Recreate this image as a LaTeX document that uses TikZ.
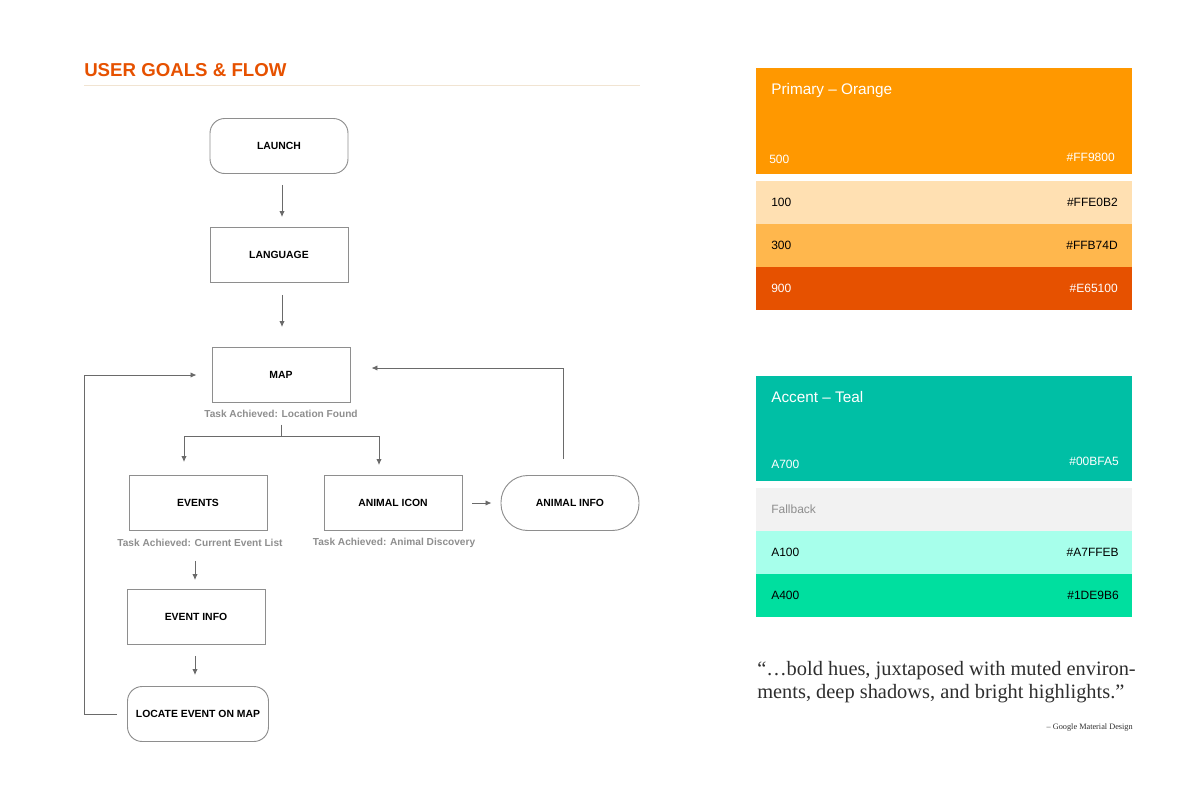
\documentclass[tikz,border=0pt]{standalone}
\usepackage{fontspec}
\setmainfont{Liberation Sans}
\newfontfamily\quotefont{Liberation Serif}
\usetikzlibrary{arrows.meta,positioning,calc}

\definecolor{titleorange}{HTML}{E65100}
\definecolor{rulecolor}{HTML}{F1E4D2}
\definecolor{flowgray}{HTML}{6A6A6A}
\definecolor{boxgray}{HTML}{8E8E8E}
\definecolor{notegray}{HTML}{8E8E8E}
\definecolor{quotegray}{HTML}{2E2E2E}
\definecolor{o500}{HTML}{FF9800}
\definecolor{o100}{HTML}{FFE0B2}
\definecolor{o300}{HTML}{FFB74D}
\definecolor{o900}{HTML}{E65100}
\definecolor{tA700}{HTML}{00BFA5}
\definecolor{tA100}{HTML}{A7FFEB}
\definecolor{tA400}{HTML}{00DF9F}
\definecolor{fallback}{HTML}{F2F2F2}

\tikzset{
    flowbox/.style={draw=boxgray, line width=0.7pt, minimum width=103.5pt,
        minimum height=41.25pt, inner sep=0pt,
        font=\fontsize{7.8}{9}\selectfont\bfseries},
    roundbox/.style={flowbox, rounded corners=11pt},
    pillbox/.style={flowbox, rounded corners=20pt},
    goal/.style={text=notegray, inner sep=0pt, font=\fontsize{7.6}{9}\selectfont\bfseries},
    flow/.style={draw=flowgray, line width=0.65pt},
    flow arrow/.style={flow, -{Latex[length=4.5pt,width=4pt]}},
    swatch label/.style={anchor=west, inner sep=0pt, font=\fontsize{9}{11}\selectfont},
    swatch hex/.style={anchor=east, inner sep=0pt, font=\fontsize{9}{11}\selectfont},
    swatch title/.style={anchor=west, inner sep=0pt, text=white, font=\fontsize{11.5}{14}\selectfont},
}

\begin{document}
\begin{tikzpicture}[x=0.75pt, y=-0.75pt]
    \useasboundingbox (0,0) rectangle (1200,800);

    % heading
    \node[anchor=base west, inner sep=0pt, text=titleorange,
        font=\fontsize{14}{16}\selectfont\bfseries] (heading) at (84,76) {USER GOALS \& FLOW};
    \draw[rulecolor, line width=0.75pt] (84,85) -- (640,85);

    % flow screens
    \node[roundbox] (launch) at (279,146) {LAUNCH};
    \node[flowbox] (language) at (279,255) {LANGUAGE};
    \node[flowbox] (map) at (281,375) {MAP};
    \node[goal] (maplabel) at (281,414) {Task Achieved: Location Found};
    \node[flowbox] (events) at (198,503) {EVENTS};
    \node[goal] (eventslabel) at (200,543) {Task Achieved: Current Event List};
    \node[flowbox] (animalicon) at (393,503) {ANIMAL ICON};
    \node[goal] (animallabel) at (394,543) {Task Achieved: Animal Discovery};
    \node[pillbox] (animalinfo) at (570,503) {ANIMAL INFO};
    \node[flowbox] (eventinfo) at (196,617) {EVENT INFO};
    \node[roundbox, minimum width=105.75pt] (locate) at (198,714) {LOCATE EVENT ON MAP};

    \coordinate (split) at (281,436);
    \coordinate (backleft) at (84,714);
    \coordinate (backright) at (563,368);

    % connectors
    \draw[flow arrow, shorten <=8.25pt, shorten >=7.5pt] ([xshift=2.25pt]launch.south) -- ([xshift=2.25pt]language.north);
    \draw[flow arrow, shorten <=9pt, shorten >=15pt] ([xshift=2.25pt]language.south) -- ([xshift=2.25pt]language.south |- map.north);
    \draw[flow, shorten <=5pt] (maplabel.south) -- (split);
    \draw[flow arrow] (split) -| ($(events.north)+(-14,-13)$);
    \draw[flow arrow] (split) -| ($(animalicon.north)+(-14,-10)$);
    \draw[flow arrow, shorten <=7.5pt, shorten >=6.75pt] (animalicon.east) -- (animalinfo.west);
    \draw[flow arrow, shorten <=12pt, shorten >=15.75pt] (backright |- animalinfo.north) -- (backright) -- (backright -| map.east);
    \draw[flow arrow, shorten <=10.5pt, shorten >=6.75pt] ([xshift=-0.75pt]eventinfo.north |- eventslabel.south) -- ([xshift=-0.75pt]eventinfo.north);
    \draw[flow arrow, shorten <=8.25pt, shorten >=8.25pt] ([xshift=-0.75pt]eventinfo.south) -- ([xshift=-0.75pt]eventinfo.south |- locate.north);
    \draw[flow arrow, shorten <=7.5pt, shorten >=11.25pt] (locate.west) -- (backleft) |- (map.west);

    % primary palette
    \fill[o500] (756,68) rectangle (1132,174);
    \node[swatch title] at (771,91) {Primary – Orange};
    \node[swatch label, text=white] at (769,159) {500};
    \node[swatch hex, text=white] at (1115,157) {\#FF9800};
    \foreach \ytop/\fillc/\lab/\hex/\txt in {181/o100/100/FFE0B2/black,
        224/o300/300/FFB74D/black, 267/o900/900/E65100/white} {
        \fill[\fillc] (756,\ytop) rectangle (1132,\ytop+43);
        \node[swatch label, text=\txt] at (771,\ytop+21.5) {\lab};
        \node[swatch hex, text=\txt] at (1118,\ytop+21.5) {\#\hex};
    }

    % accent palette
    \fill[tA700] (756,376) rectangle (1132,481);
    \node[swatch title] at (771,397) {Accent – Teal};
    \node[swatch label, text=white] at (771,464) {A700};
    \node[swatch hex, text=white] at (1119,461) {\#00BFA5};
    \fill[fallback] (756,488) rectangle (1132,531);
    \node[swatch label, text=notegray] at (771,509.5) {Fallback};
    \foreach \ytop/\fillc/\lab/\hex in {531/tA100/A100/A7FFEB, 574/tA400/A400/1DE9B6} {
        \fill[\fillc] (756,\ytop) rectangle (1132,\ytop+43);
        \node[swatch label] at (771,\ytop+21.5) {\lab};
        \node[swatch hex] at (1119,\ytop+21.5) {\#\hex};
    }

    % quote
    \node[anchor=base west, inner sep=0pt, text=quotegray, font=\quotefont\fontsize{15.3}{18}\selectfont]
        (quoteone) at (757,675) {“…bold hues, juxtaposed with muted environ-};
    \node[anchor=base west, inner sep=0pt, text=quotegray, font=\quotefont\fontsize{15.3}{18}\selectfont]
        (quotetwo) at (757,698) {ments, deep shadows, and bright highlights.”};
    \node[anchor=base east, inner sep=0pt, text=quotegray, font=\quotefont\fontsize{6.2}{7}\selectfont]
        (source) at (1133,729) {– Google Material Design};
\end{tikzpicture}
\end{document}
